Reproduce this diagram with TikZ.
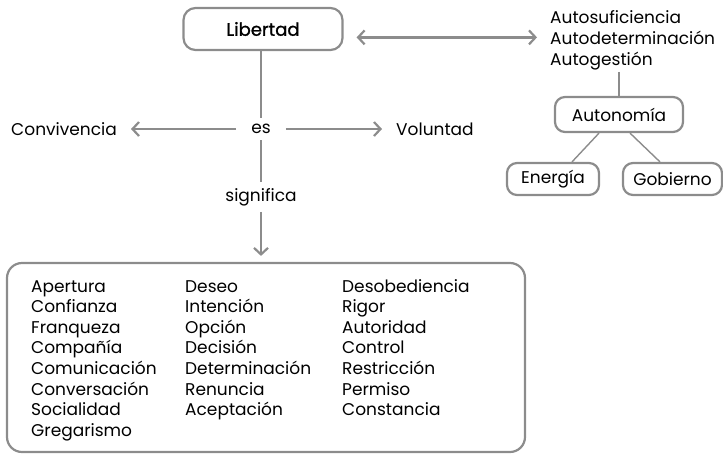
\documentclass[tikz,border=0pt]{standalone}
\usepackage{fontspec}
\setmainfont{Poppins}
\newfontfamily\medfont[FakeBold=1.2]{Poppins}
\usetikzlibrary{arrows.meta,calc}
\definecolor{lgray}{RGB}{140,140,140}
\begin{document}
\begin{tikzpicture}[x=1pt,y=-1pt,
  every node/.style={font=\fontsize{17}{21}\selectfont, inner sep=0pt},
  conn/.style={draw=lgray, line width=2.4pt},
  arr/.style={conn, -{Straight Barb[length=6.5pt,width=14pt,line width=2.2pt]}},
  darr/.style={conn, {Straight Barb[length=6.5pt,width=14pt,line width=2.2pt]}-{Straight Barb[length=6.5pt,width=14pt,line width=2.2pt]}},
  rbox/.style={draw=lgray, line width=2.2pt, rounded corners=10pt},
  word/.style={anchor=base west}
]
\useasboundingbox (0,0) rectangle (723,456);
% main node
\node[rbox, minimum width=159pt, minimum height=42pt, rounded corners=12pt, font=\fontsize{18}{21}\medfont] (lib) at (263,29) {Libertad};
% Auto list
\node[word] (a1) at (550,23) {Autosuficiencia};
\node[word] (a2) at (550,44) {Autodeterminación};
\node[word] (a3) at (550,65) {Autogestión};
\node[rbox, minimum width=128pt, minimum height=35pt] (auton) at (619,114.5) {Autonomía};
\node[rbox, minimum width=92pt, minimum height=32pt] (ener) at (553,179) {Energía};
\node[rbox, minimum width=99pt, minimum height=32pt] (gob) at (672.5,179) {Gobierno};
% middle
\node[inner xsep=15pt, inner ysep=6pt] (es) at (261,129) {es};
\node[anchor=east] (conv) at (117,129) {Convivencia};
\node[anchor=west] (vol) at (396,129) {Voluntad};
\node[inner ysep=6pt] (sig) at (261,197) {significa};
% big box
\node[rbox, rounded corners=15pt, minimum width=518pt, minimum height=189pt] (big) at (266,357.5) {};
% columns
\foreach \w [count=\i] in {Apertura,Confianza,Franqueza,Compañía,Comunicación,Conversación,Socialidad,Gregarismo}
  \node[word] (c1-\i) at (31,{292+20.6*(\i-1)}) {\w};
\foreach \w [count=\i] in {Deseo,Intención,Opción,Decisión,Determinación,Renuncia,Aceptación}
  \node[word] (c2-\i) at (185,{292+20.6*(\i-1)}) {\w};
\foreach \w [count=\i] in {Desobediencia,Rigor,Autoridad,Control,Restricción,Permiso,Constancia}
  \node[word] (c3-\i) at (342,{292+20.6*(\i-1)}) {\w};
% connectors
\draw[conn] (lib.south -| es) -- (es.north);
\draw[conn] (es.south) -- (sig.north);
\draw[arr, shorten >=6pt] (sig.south) -- (sig.south |- big.north);
\draw[arr, shorten >=14pt] (es.west) -- (conv.east);
\draw[arr, shorten >=14pt] (es.east) -- (vol.west);
\draw[darr, shorten <=13pt, shorten >=13pt] (lib.east |- a2.west) -- (a2.west);
\coordinate (a3s) at ($(a3.south)+(0,2)$);
\draw[conn, line width=1.4pt] (a3s -| auton) -- (auton.north);
\draw[conn, line width=1.4pt] ($(auton.south)+(-20,0)$) -- ($(ener.north)+(19,0)$);
\draw[conn, line width=1.4pt] ($(auton.south)+(11,0)$) -- ($(gob.north)+(-12.5,0)$);
\end{tikzpicture}
\end{document}
